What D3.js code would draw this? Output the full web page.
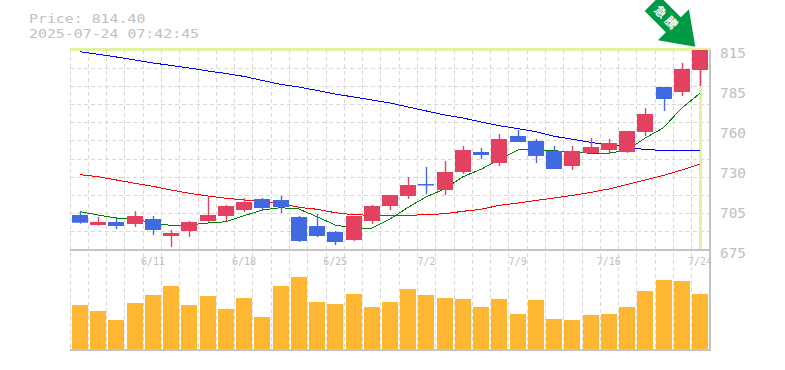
<!DOCTYPE html>
<html>
<head>
<meta charset="utf-8">
<script src="https://cdn.jsdelivr.net/npm/d3@7"></script>
<style>
  html, body { margin: 0; padding: 0; background: #fff; overflow: hidden; }
  svg { display: block; }
  text { font-family: "DejaVu Sans Mono", monospace; fill: #c0c0c0; }
</style>
</head>
<body>
<div id="chart"></div>
<script>
const dates = ["6/5","6/6","6/9","6/10","6/11","6/12","6/13","6/16","6/17","6/18","6/19","6/20","6/23","6/24","6/25","6/26","6/27","6/30","7/1","7/2","7/3","7/4","7/7","7/8","7/9","7/10","7/11","7/14","7/15","7/16","7/17","7/18","7/22","7/23","7/24"];
const opens = [699.5,692.5,694.6,693.2,696.7,684.8,688.3,695.3,698.8,703,710.7,710,698.1,691.8,687.6,682,695.3,705.8,712.8,721.2,717,729.6,743.6,735.9,754.8,751.3,744.3,733.8,742.9,745,743.6,757.6,789.1,785.6,801];
const highs = [702.3,698.1,696.7,702.3,698.8,689,695.3,712.8,706.5,711.4,711.4,712.8,698.8,700.2,688.3,698.8,706.5,713.5,726.1,733.1,737.3,747.8,746.4,756.2,759,752.7,747.8,747.8,753.4,752.7,758.3,774.4,789.1,805.9,815];
const lows = [693.4,692,689.7,691.1,685.5,677.1,684.1,694.6,695.3,701.6,702.3,700.9,680.6,684.1,678.5,681.3,693.2,703,710.7,714.2,713.5,728.2,738.7,733.8,750.6,735.9,731.7,731,742.9,742.9,742.9,754.8,772.3,782.8,789.8];
const closes = [694.1,694.6,691.8,698.8,689,686.9,694.6,699.5,705.8,708.6,704.4,705.1,681.3,684.8,680.6,698.8,705.8,713.5,720.5,720.5,729.6,745,741.5,752.7,750.6,740.8,731.7,744.3,747.1,749.9,758.3,770.2,780.7,801.7,815];
const maShort = [701.8,699.5,697.4,697.4,693.4,692.3,692.5,693.9,694.8,699,703,704.6,703.7,698.3,692.5,690.4,690.2,696.7,704.9,712.3,717.7,726.3,731.5,738.5,745,745.2,744.5,743.6,742.7,742.7,745,753.4,760.6,774.4,784.7];
const maMid = [727.7,726.3,724,721.7,719.6,717,714.7,712.8,711.2,710,709.3,707.7,704.9,703.5,701.1,699.7,699.3,699.3,699.3,699.7,700.4,702.1,703.5,706.3,707.9,709.7,711.4,713.2,715.3,717.7,720.9,724,727.2,731,735.2];
const maLong = [813.8,812,810.1,808,805.9,804.2,802.4,800.3,798.6,796.5,793.7,790.9,789.1,786.7,784.2,782.1,780,777.9,775.1,772.3,769.5,767.4,764.6,762,760,757.8,754.6,752.5,750.4,748.5,747.3,745.2,744.8,744.8,744.8];
const volumes = [44,38,29,46,54,63,44,53,40,51,32,63,72,47,45,55,42,47,60,54,51,50,42,50,35,49,30,29,34,35,42,58,69,68,55];

const priceTicks = [815,787,759,731,703,675];
const priceLabels = ["815","785","760","730","705","675"];
const dateTicks = ["6/11","6/18","6/25","7/2","7/9","7/16","7/24"];
const titleLines = ["Price: 814.40","2025-07-24 07:42:45"];

const width = 785, height = 370;
const plotLeft = 70, plotRight = 710, plotTop = 50, plotMid = 250, plotBottom = 349;
const upColor = "#e2425f", downColor = "#4169e1", gridColor = "#d8d8d8", axisColor = "#c4c4c4";

const svg = d3.select("#chart").append("svg").attr("width", width).attr("height", height);

let x = d3.scaleBand().domain(dates).range([72, 708]).paddingInner(0.122);
let y = d3.scaleLinear().domain([675, 815]).range([plotMid, plotTop]);
let yVol = d3.scaleLinear().domain([0, 99]).range([plotBottom, plotMid]);
let gridX = d3.scaleLinear().domain([0, 35]).range([plotLeft, plotRight]);
let gridY = d3.scaleLinear().domain([0, 11]).range([plotTop, plotMid]);
let mx = d => x(d) + x.bandwidth() / 2;

//grid
let grid = svg.append("g").attr("shape-rendering", "crispEdges")
  .attr("stroke", gridColor).attr("stroke-dasharray", "4 3");
grid.selectAll(".v").data(d3.range(0, 35)).enter().append("line").attr("class", "v")
  .attr("x1", d => gridX(d)).attr("x2", d => gridX(d))
  .attr("y1", plotTop).attr("y2", plotBottom);
grid.selectAll(".h").data(d3.range(1, 11)).enter().append("line").attr("class", "h")
  .attr("x1", plotLeft).attr("x2", plotRight)
  .attr("y1", d => gridY(d)).attr("y2", d => gridY(d));

//highlight for the latest price
let lastX = mx(dates[dates.length - 1]);
svg.append("rect").attr("x", plotLeft).attr("y", plotTop - 2).attr("width", plotRight - plotLeft + 1).attr("height", 3).attr("fill", "#e2f2a2");
svg.append("rect").attr("x", Math.round(lastX) - 1).attr("y", plotTop).attr("width", 3).attr("height", plotMid - plotTop).attr("fill", "#e2f2a2");

//frame
let frame = svg.append("g").attr("shape-rendering", "crispEdges").attr("stroke", axisColor);
frame.append("line").attr("x1", plotLeft).attr("x2", plotRight + 1).attr("y1", plotMid).attr("y2", plotMid).attr("stroke-width", 2);
frame.append("line").attr("x1", plotLeft).attr("x2", plotRight + 1).attr("y1", plotBottom + 1).attr("y2", plotBottom + 1).attr("stroke-width", 2);
frame.append("line").attr("x1", plotRight).attr("x2", plotRight).attr("y1", plotTop).attr("y2", plotBottom + 1).attr("stroke-width", 2);

//volume
svg.append("g").selectAll("rect").data(dates).enter().append("rect")
  .attr("x", d => Math.round(x(d)))
  .attr("y", (d, i) => yVol(volumes[i]))
  .attr("width", 16)
  .attr("height", (d, i) => yVol(0) - yVol(volumes[i]))
  .attr("fill", "#ffb733");

//moving averages go under the candles
let line = d3.line().x(d => mx(d[0])).y(d => y(d[1]));
[[maLong, "#0000ff"], [maMid, "#ff0000"], [maShort, "#008000"]].forEach(function(s) {
  svg.append("path")
    .attr("d", line(dates.map((d, i) => [d, s[0][i]])))
    .attr("fill", "none").attr("stroke", s[1]).attr("stroke-width", 1)
    .attr("shape-rendering", "crispEdges");
});

//candles
let candle = svg.append("g").selectAll("g").data(dates).enter().append("g")
  .attr("fill", (d, i) => closes[i] >= opens[i] ? upColor : downColor)
  .attr("stroke", (d, i) => closes[i] >= opens[i] ? upColor : downColor);
candle.append("line")
  .attr("x1", d => Math.round(mx(d)) + 0.5).attr("x2", d => Math.round(mx(d)) + 0.5)
  .attr("y1", (d, i) => y(highs[i])).attr("y2", (d, i) => y(lows[i]))
  .attr("stroke-width", 1.4);
candle.append("rect")
  .attr("stroke", "none")
  .attr("x", d => Math.round(x(d)))
  .attr("y", (d, i) => y(Math.max(opens[i], closes[i])))
  .attr("width", 16)
  .attr("height", (d, i) => Math.max(1.5, Math.abs(y(opens[i]) - y(closes[i]))));

//axis labels
svg.append("g").selectAll("text").data(priceTicks).enter().append("text")
  .attr("x", 720).attr("y", d => y(d) + 8)
  .attr("textLength", 26).attr("lengthAdjust", "spacingAndGlyphs")
  .style("font-size", "13.5px")
  .text((d, i) => priceLabels[i]);
svg.append("g").selectAll("text").data(dateTicks).enter().append("text")
  .attr("x", d => mx(d)).attr("y", 265)
  .attr("text-anchor", "middle")
  .style("font-size", "10px")
  .text(d => d);

//title, stretched a little to get the wide look of the original
svg.append("g").selectAll("text").data(titleLines).enter().append("text")
  .attr("x", 29).attr("y", (d, i) => 23 + i * 15)
  .attr("textLength", d => d.length * 8.95).attr("lengthAdjust", "spacingAndGlyphs")
  .style("font-size", "13px")
  .text(d => d);

//arrow, local coords with the tip at 0,0 pointing down
let arrow = svg.append("g").attr("transform", "translate(" + (lastX - 4.7) + ",46.7) rotate(-45)");
arrow.append("path")
  .attr("d", "M0,0L22,-31L10.6,-31L10.6,-61L-10.6,-61L-10.6,-31L-22,-31Z")
  .attr("fill", "#009944");
arrow.append("text")
  .attr("transform", "translate(0,-40) rotate(90)")
  .attr("text-anchor", "middle")
  .attr("dy", "0.36em")
  .style("font-family", "'Noto Sans CJK JP'")
  .style("font-weight", "700")
  .style("font-size", "12px")
  .style("letter-spacing", "3px")
  .style("fill", "#fff")
  .text("急騰");
</script>
</body>
</html>
